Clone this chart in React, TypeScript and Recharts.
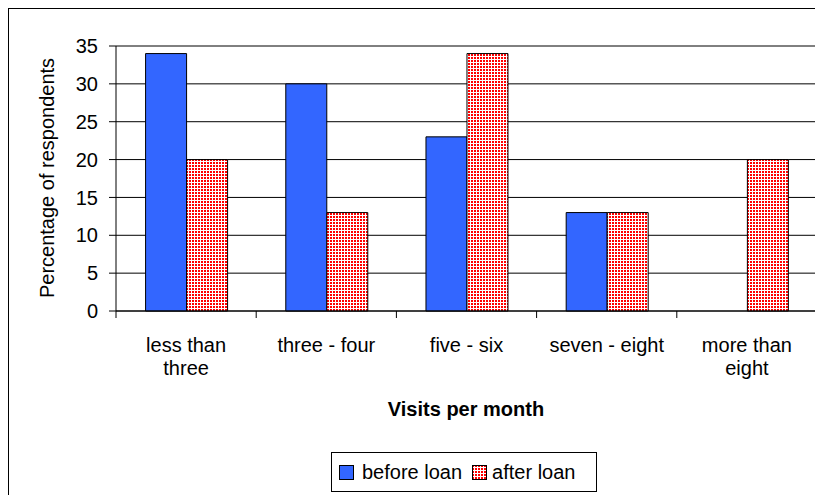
import React from 'react';
import { BarChart, Bar, XAxis, YAxis, CartesianGrid, Legend, Label } from 'recharts';

const categories = [['less than', 'three'], ['three - four'], ['five - six'], ['seven - eight'], ['more than', 'eight']];
const beforeLoan = [34, 30, 23, 13, 0];
const afterLoan = [20, 13, 34, 13, 20];
const yTicks = [0, 5, 10, 15, 20, 25, 30, 35];
const seriesOrder = ['before', 'after'];

const data = categories.map((c, i) => ({ name: c.join(' '), lines: c, before: beforeLoan[i], after: afterLoan[i] }));

const FONT = '"Liberation Sans", Arial, sans-serif';

const XTick = (props: any) => {
  const { x, y, payload, index, visibleTicksCount, width } = props;
  const half = payload && payload.offset ? payload.offset : width / visibleTicksCount / 2;
  const lines: string[] = data[index] ? data[index].lines : [String(payload.value)];
  return (
    <g>
      <line x1={x - half} x2={x - half} y1={y} y2={y + 7} stroke="#000" />
      {index === visibleTicksCount - 1 && <line x1={x + half} x2={x + half} y1={y} y2={y + 7} stroke="#000" />}
      {lines.map((l, i) => (
        <text key={i} x={x} y={y + 40.7 + i * 23.3} textAnchor="middle" fontFamily={FONT} fontSize={20} fill="#000">
          {l}
        </text>
      ))}
    </g>
  );
};

const LegendContent = (props: any) => {
  const items = [...(props.payload || [])].sort(
    (a: any, b: any) => seriesOrder.indexOf(a.dataKey) - seriesOrder.indexOf(b.dataKey)
  );
  return (
    <div
      style={{
        border: '1px solid #000',
        width: 264,
        height: 38,
        display: 'flex',
        alignItems: 'center',
        fontFamily: FONT,
        fontSize: 20,
        color: '#000',
        background: '#fff',
        boxSizing: 'content-box',
      }}
    >
      {items.map((p: any, i: number) => (
        <div key={i} style={{ display: 'flex', alignItems: 'center', marginLeft: i === 0 ? 7 : 10 }}>
          <svg width={15} height={15} style={{ display: 'block' }}>
            <rect x={0.5} y={0.5} width={14} height={14} fill={p.payload && p.payload.fill ? p.payload.fill : p.color} stroke="#000" />
          </svg>
          <span style={{ marginLeft: i === 0 ? 8 : 5, whiteSpace: 'nowrap' }}>{p.value}</span>
        </div>
      ))}
    </div>
  );
};

export default function App() {
  return (
    <div style={{ border: '1px solid #000', width: 813, height: 486, position: 'relative', background: '#fff' }}>
      <svg width={0} height={0} style={{ position: 'absolute' }}>
        <defs>
          <pattern id="redCheck" width={3} height={3} patternUnits="userSpaceOnUse">
            <rect x={0} y={0} width={3} height={3} fill="#ffffff" />
            <rect x={0} y={0} width={2} height={2} fill="#ff0000" />
          </pattern>
        </defs>
      </svg>
      <BarChart
        width={813}
        height={486}
        data={data}
        margin={{ top: 37, right: 5, left: 47, bottom: 74 }}
        barCategoryGap="21.1%"
        barGap={0}
      >
        <CartesianGrid vertical={false} stroke="#000" />
        <XAxis
          dataKey="name"
          height={110}
          axisLine={{ stroke: '#000' }}
          tickLine={false}
          tickSize={0}
          tickMargin={0}
          interval={0}
          tick={<XTick />}
        >
          <Label
            content={() => (
              <text x={457} y={407} textAnchor="middle" fontFamily={FONT} fontSize={20} fontWeight="bold" fill="#000">
                Visits per month
              </text>
            )}
          />
        </XAxis>
        <YAxis
          width={60}
          domain={[0, 35]}
          ticks={yTicks}
          interval={0}
          axisLine={{ stroke: '#000' }}
          tickLine={{ stroke: '#000' }}
          tickSize={7}
          tickMargin={11}
          tick={{ fontFamily: FONT, fontSize: 20, fill: '#000' }}
        >
          <Label
            content={() => (
              <text
                x={38}
                y={169}
                transform="rotate(-90 38 169)"
                textAnchor="middle"
                dominantBaseline="central"
                fontFamily={FONT}
                fontSize={20}
                fill="#000"
              >
                Percentage of respondents
              </text>
            )}
          />
        </YAxis>
        <YAxis
          yAxisId="r"
          orientation="right"
          width={0}
          domain={[0, 35]}
          ticks={yTicks}
          axisLine={{ stroke: '#808080' }}
          tick={false}
          tickLine={false}
        />
        <Legend
          layout="horizontal"
          verticalAlign="middle"
          align="center"
          wrapperStyle={{ left: 322, top: 443, width: 'auto', height: 'auto' }}
          content={<LegendContent />}
        />
        <Bar dataKey="before" name="before loan" fill="#3366ff" stroke="#000" strokeWidth={1} isAnimationActive={false} />
        <Bar dataKey="after" name="after loan" fill="url(#redCheck)" stroke="#000" strokeWidth={1} isAnimationActive={false} />
      </BarChart>
    </div>
  );
}
